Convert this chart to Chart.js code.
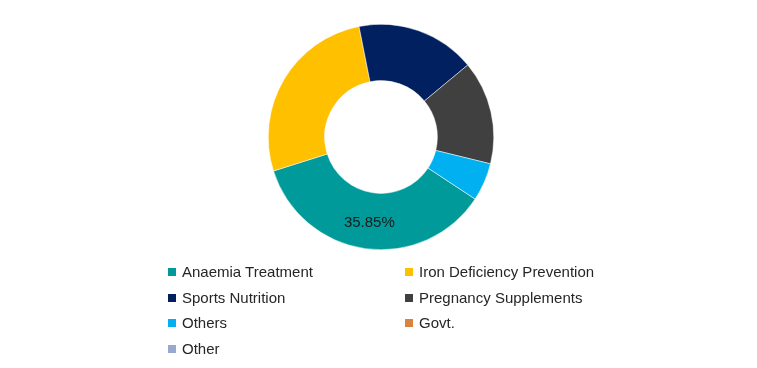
<!DOCTYPE html>
<html>
<head>
<meta charset="utf-8">
<script src="https://cdn.jsdelivr.net/npm/chart.js@4/dist/chart.umd.min.js"></script>
<style>
  html, body { margin: 0; padding: 0; background: #fff; }
  #wrap { position: relative; width: 757px; height: 368px; overflow: hidden; }
  #chart { position: absolute; left: 0; top: 0; }
  .item { position: absolute; font: 15px 'Liberation Sans', Arial, sans-serif; line-height: 15px; color: #262626; white-space: nowrap; }
  .item .sw { position: absolute; left: 0; top: 4px; width: 8px; height: 8px; }
  .item .tx { position: absolute; left: 14px; top: 0; }
</style>
</head>
<body>
<div id="wrap">
  <canvas id="chart" width="757" height="368"></canvas>
  <div id="legend"></div>
</div>
<script>
// segment names and shares (%)
const segments = ['Anaemia Treatment', 'Iron Deficiency Prevention', 'Sports Nutrition',
  'Pregnancy Supplements', 'Others', 'Govt.', 'Other'];
const shares = [35.85, 26.75, 17.1, 14.85, 5.45, 0, 0];
const colors = ['#009A9A', '#FFC000', '#002060', '#404040', '#00B0F0', '#D8843E', '#97A9CF'];
const labelIndex = 0; // only the biggest slice carries a label

// draws the value label on the slice
const sliceLabel = {
  id: 'sliceLabel',
  afterDatasetsDraw(chart) {
    const arc = chart.getDatasetMeta(0).data[labelIndex];
    if (!arc) return;
    const pos = arc.tooltipPosition();
    const ctx = chart.ctx;
    ctx.save();
    ctx.font = "15px 'Liberation Sans', Arial, sans-serif";
    ctx.fillStyle = '#1a1a1a';
    ctx.textAlign = 'center';
    ctx.textBaseline = 'middle';
    ctx.fillText(shares[labelIndex].toFixed(2) + '%', pos.x, pos.y + 2);
    ctx.restore();
  }
};

new Chart(document.getElementById('chart'), {
  type: 'doughnut',
  data: {
    labels: segments,
    datasets: [{
      data: shares,
      backgroundColor: colors,
      borderColor: '#ffffff',
      borderWidth: 0.5
    }]
  },
  options: {
    responsive: false,
    animation: false,
    cutout: '50%',
    rotation: 123.4,
    layout: { padding: { top: 24, bottom: 118, left: 268, right: 263 } },
    plugins: {
      legend: { display: false },
      tooltip: { enabled: false }
    }
  },
  plugins: [sliceLabel]
});

// two-column legend under the ring
const legend = document.getElementById('legend');
segments.forEach((name, i) => {
  const col = i % 2, row = Math.floor(i / 2);
  const el = document.createElement('div');
  el.className = 'item';
  el.style.left = (col ? 405 : 168) + 'px';
  el.style.top = (264 + row * 25.6) + 'px';
  el.innerHTML = '<span class="sw" style="background:' + colors[i] + '"></span><span class="tx">' + name + '</span>';
  legend.appendChild(el);
});
</script>
</body>
</html>
